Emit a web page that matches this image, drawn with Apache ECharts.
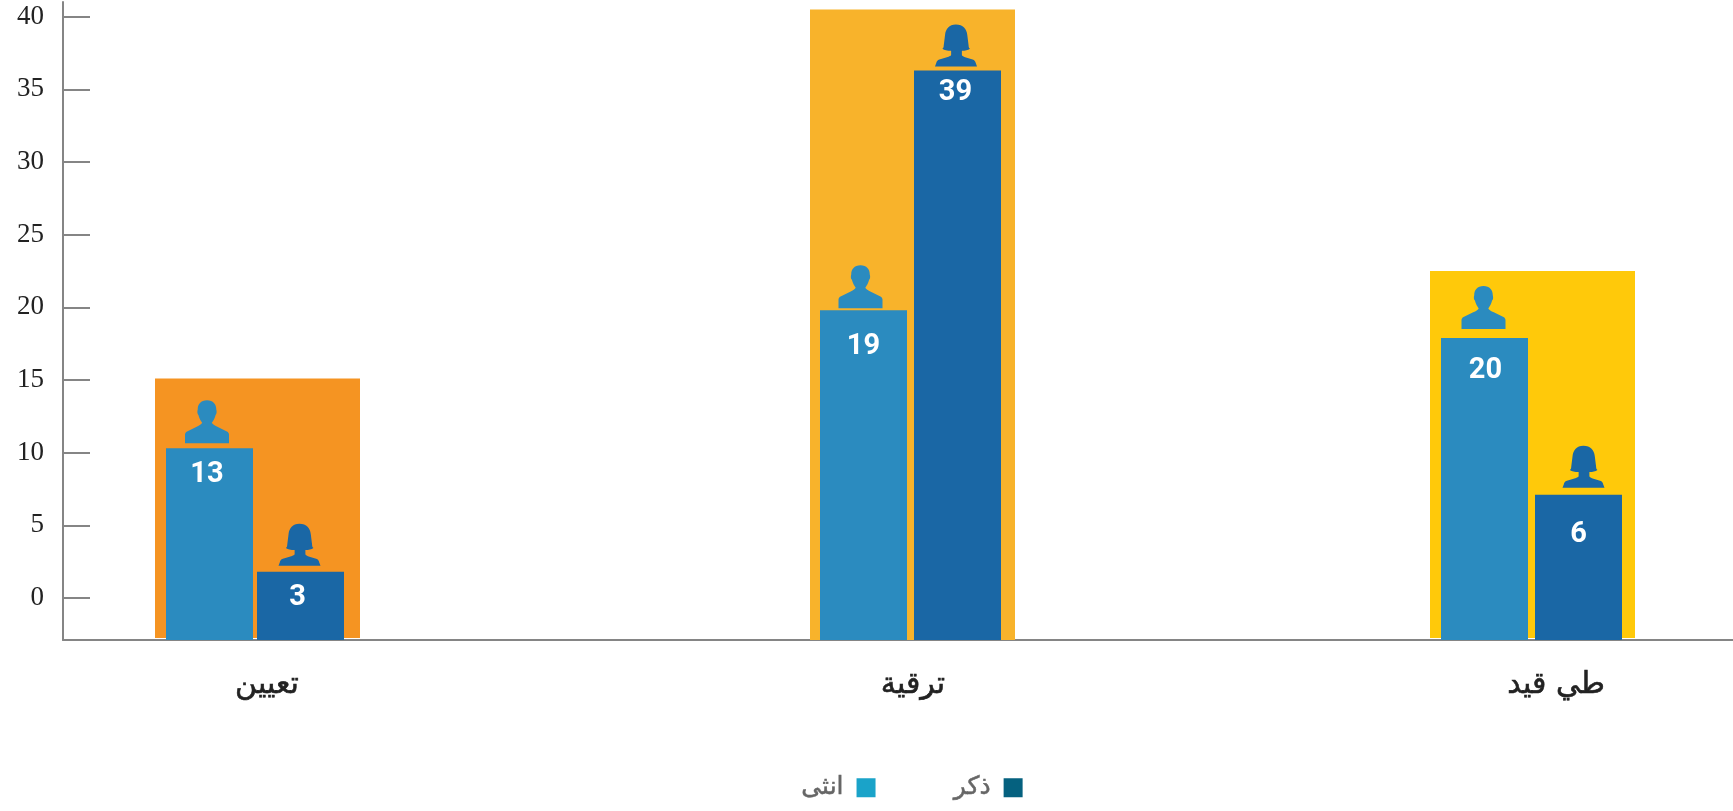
<!DOCTYPE html>
<html>
<head>
<meta charset="utf-8">
<style>html,body{margin:0;padding:0;background:#fff}#c{width:1733px;height:811px}</style>
<script src="https://cdn.jsdelivr.net/npm/echarts@6/dist/echarts.min.js"></script>
</head>
<body>
<div id="c"></div>
<script>
const categories = ['تعيين', 'ترقية', 'طي قيد'];
const seriesNames = ['انثى', 'ذكر'];
const backgroundValues = [15.1, 40.5, 22.5];
const lightValues = [10.3, 19.8, 17.9];
const darkValues = [1.8, 36.3, 7.1];
const lightLabels = ['13', '19', '20'];
const darkLabels = ['3', '39', '6'];
const axisMin = -2.8906;
const axisLineMax = 41.0186;
const axisTickMax = 40;
const tickStep = 5;

// layout and style, separate from the data
const C = { bg: ['#F59422', '#F8B32B', '#FFC90A'], light: '#2B8BBF', dark: '#1A67A5', legendLight: '#1AA3C9', legendDark: '#05617F', axis: '#858585' };
const GRID_BOTTOM = 640, ZERO_Y = 598, GRID_TOP = 2, TICK_TOP = 16.7, BAR_W = 87, ICON_M = [44, 43], ICON_F = [42, 42];
const panels = [
  { bgLeft: 155, pairCenter: 255, gap: 4, nudge: 12, bgBase: -2.75, mOff: [-2.5, 5], fOff: [-1, 6], lLab: [-2.5, 12], dLab: [-3, 11] },
  { bgLeft: 810, pairCenter: 910.5, gap: 7, nudge: 2.5, bgBase: -2.89, mOff: [-3, 2], fOff: [-1.5, 4], lLab: [0, 22], dLab: [-2, 8] },
  { bgLeft: 1430, pairCenter: 1531.5, gap: 7, nudge: 24.5, bgBase: -2.75, mOff: [-1, 9], fOff: [5, 7], lLab: [1, 18], dLab: [0, 25] }
];
const maleIcon = 'path://M64 0C82 0 91 12 91 28C93 34 92 42 89 44C87 54 82 62 78 68C80 72 86 76 94 80L122 94C126 96 128 100 128 104L128 130L0 130L0 104C0 100 2 96 6 94L34 80C42 76 48 72 50 68C46 62 41 54 39 44C36 42 35 34 37 28C37 12 46 0 64 0Z';
const femaleIcon = 'path://M62 0C84 0 94 14 96 30L100 62C100 68 102 70 104 72C98 76 90 78 80 78L80 90C80 94 86 96 92 98L112 104C118 106 120 110 121 114L125 125L0 125L4 114C5 110 7 106 13 104L33 98C39 96 48 94 48 90L48 78C36 78 28 76 22 72C24 70 26 68 26 62L30 30C32 14 42 0 62 0Z';

const grids = [], xAxes = [], yAxes = [], series = [];
function addPanel(left, width, top, bottom, yMin, yMax, xAxis, yAxis) {
  grids.push({ left, width, top, height: bottom - top });
  xAxes.push(Object.assign({ gridIndex: grids.length - 1 }, xAxis));
  yAxes.push(Object.assign({ gridIndex: grids.length - 1, type: 'value', min: yMin, max: yMax, splitLine: { show: false } }, yAxis));
  return grids.length - 1;
}
// axis line frame
addPanel(63, 1670, GRID_TOP, GRID_BOTTOM, axisMin, axisLineMax,
  { type: 'value', min: 0, max: 1, axisLine: { show: true, onZero: false, lineStyle: { color: C.axis, width: 2 } }, axisTick: { show: false }, axisLabel: { show: false }, splitLine: { show: false } },
  { axisLine: { show: true, onZero: false, lineStyle: { color: C.axis, width: 2 } }, axisTick: { show: false }, axisLabel: { show: false } });
// ticks and tick labels, 0 to 40
addPanel(63, 1670, TICK_TOP, ZERO_Y, 0, axisTickMax,
  { type: 'value', min: 0, max: 1, show: false },
  { interval: tickStep, axisLine: { show: false },
    axisTick: { show: true, inside: true, length: 27, lineStyle: { color: C.axis, width: 2 } },
    axisLabel: { show: true, margin: 19, padding: [0, 0, 6, 0], color: '#222', fontFamily: 'Liberation Serif', fontSize: 27 } });

// each bar also reaches below zero down to the axis floor, through a same-coloured stacked foot
function barPair(name, g, value, stackId, color, base, label, width, gapPct, z) {
  series.push({ type: 'bar', name, xAxisIndex: g, yAxisIndex: g, stack: stackId, data: [label ? { value, label } : value], barWidth: width, barGap: gapPct, z, silent: true, itemStyle: { color } });
  series.push({ type: 'bar', name: stackId + ' foot', xAxisIndex: g, yAxisIndex: g, stack: stackId, data: [base], barWidth: width, barGap: gapPct, z, silent: true, itemStyle: { color } });
}

categories.forEach((cat, i) => {
  const p = panels[i];
  const hiddenY = { show: false };
  // coloured backdrop
  const b = addPanel(p.bgLeft, 205, GRID_TOP, GRID_BOTTOM, axisMin, axisLineMax, { type: 'category', data: [cat], show: false }, hiddenY);
  barPair('backdrop' + i, b, backgroundValues[i], 'bg' + i, C.bg[i], p.bgBase, null, 205, '0%', 1);
  // pair of bars
  const g = addPanel(p.pairCenter - 120, 240, GRID_TOP, GRID_BOTTOM, axisMin, axisLineMax,
    { type: 'category', data: [cat], axisLine: { show: false }, axisTick: { show: false },
      axisLabel: { show: true, interval: 0, margin: 30, color: '#222', fontFamily: 'DejaVu Sans', fontSize: 30, textBorderColor: '#222', textBorderWidth: 0.6, padding: [0, 0, 0, 2 * p.nudge] } }, hiddenY);
  const gapPct = (p.gap / BAR_W * 100) + '%';
  const lab = (txt, off) => ({ show: true, position: 'insideTop', distance: 0, offset: off, color: '#fff', fontFamily: 'Roboto', fontWeight: 'bold', fontSize: 29, formatter: () => txt });
  barPair(seriesNames[0], g, lightValues[i], 'l' + i, C.light, axisMin, lab(lightLabels[i], p.lLab), BAR_W, gapPct, 3);
  barPair(seriesNames[1], g, darkValues[i], 'd' + i, C.dark, axisMin, lab(darkLabels[i], p.dLab), BAR_W, gapPct, 3);
  // person icons standing on the bars
  series.push({ type: 'pictorialBar', name: 'iconM' + i, xAxisIndex: g, yAxisIndex: g, data: [lightValues[i]], barWidth: BAR_W, barGap: gapPct, symbol: maleIcon, symbolSize: ICON_M, symbolPosition: 'end', symbolOffset: [p.mOff[0], -(ICON_M[1] + p.mOff[1])], z: 4, silent: true, itemStyle: { color: C.light } });
  series.push({ type: 'pictorialBar', name: 'iconF' + i, xAxisIndex: g, yAxisIndex: g, data: [darkValues[i]], barWidth: BAR_W, barGap: gapPct, symbol: femaleIcon, symbolSize: ICON_F, symbolPosition: 'end', symbolOffset: [p.fOff[0], -(ICON_F[1] + p.fOff[1])], z: 4, silent: true, itemStyle: { color: C.dark } });
});

const chart = echarts.init(document.getElementById('c'), null, { renderer: 'canvas' });
chart.setOption({
  animation: false,
  backgroundColor: '#fff',
  tooltip: { show: false },
  legend: {
    left: 796, top: 770, align: 'right', itemWidth: 19, itemHeight: 19, itemGap: 78, icon: 'rect', selectedMode: false,
    textStyle: { color: '#666', fontFamily: 'DejaVu Sans', fontSize: 25, textBorderColor: '#666', textBorderWidth: 0.5, padding: [0, 8, 0, 0] },
    data: [
      { name: seriesNames[0], itemStyle: { color: C.legendLight } },
      { name: seriesNames[1], itemStyle: { color: C.legendDark } }
    ]
  },
  grid: grids, xAxis: xAxes, yAxis: yAxes, series
});
</script>
</body>
</html>
